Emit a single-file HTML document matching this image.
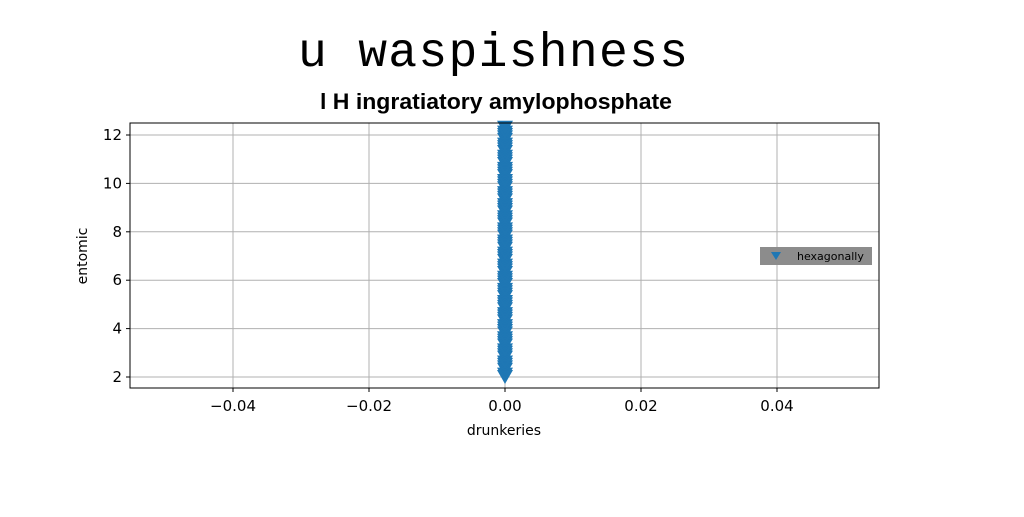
<!DOCTYPE html>
<html><head><meta charset="utf-8"><style>
body{margin:0;background:#fff;}
svg text{font-family:"DejaVu Sans","Liberation Sans",sans-serif;}
</style></head><body>
<svg width="1024" height="512" xmlns="http://www.w3.org/2000/svg" id="chart">
<text x="493" y="66" text-anchor="middle" font-size="48" style="font-family:'Liberation Mono',monospace" textLength="390" fill="#000">u waspishness</text>
<text x="496" y="109" text-anchor="middle" font-size="22" font-weight="bold" textLength="352" lengthAdjust="spacingAndGlyphs" style="font-family:'Liberation Sans Narrow','Liberation Sans',sans-serif" fill="#000">l H ingratiatory amylophosphate</text>
<g id="grid"></g>
<g id="marks"></g>
<rect x="130" y="123" width="749" height="265" fill="none" stroke="#000" stroke-width="1"/>
<g id="ticks"></g>
<text x="504" y="435" text-anchor="middle" font-size="14" fill="#000">drunkeries</text>
<text x="87" y="256" text-anchor="middle" font-size="14" fill="#000" transform="rotate(-90 87 256)">entomic</text>
<g>
<rect x="760" y="247" width="112" height="18" fill="#8c8c8c"/>
<path d="M771,252 L781,252 L776,260 Z" fill="#1f77b4"/>
<text x="797" y="260" font-size="11" fill="#000">hexagonally</text>
</g>
</svg>
<script>
const xTicks=[-0.04,-0.02,0.00,0.02,0.04];
const xTickLabels=["\u22120.04","\u22120.02","0.00","0.02","0.04"];
const yTicks=[2,4,6,8,10,12];
const yTickLabels=["2","4","6","8","10","12"];
const seriesX=[0,0,0,0,0,0,0,0,0,0,0,0,0,0,0,0,0,0,0,0,0,0,0,0,0,0,0,0,0,0,0,0,0,0,0,0,0,0,0,0,0,0,0,0,0,0,0,0,0,0,0,0,0,0,0,0,0,0,0,0,0,0,0,0,0,0,0,0,0,0,0,0,0,0,0,0,0,0,0,0,0,0,0];
const seriesY=[2.0,2.1,2.3,2.4,2.5,2.6,2.8,2.9,3.0,3.1,3.3,3.4,3.5,3.6,3.8,3.9,4.0,4.1,4.3,4.4,4.5,4.6,4.8,4.9,5.0,5.1,5.3,5.4,5.5,5.6,5.8,5.9,6.0,6.1,6.3,6.4,6.5,6.6,6.8,6.9,7.0,7.1,7.3,7.4,7.5,7.6,7.8,7.9,8.0,8.1,8.3,8.4,8.5,8.6,8.8,8.9,9.0,9.1,9.3,9.4,9.5,9.6,9.8,9.9,10.0,10.1,10.3,10.4,10.5,10.6,10.8,10.9,11.0,11.1,11.3,11.4,11.5,11.6,11.8,11.9,12.0,12.1,12.3];
const NS="http://www.w3.org/2000/svg";
const xs=v=>505+(v/0.02)*136;
const ys=v=>377-(v-2)*24.2;
const grid=document.getElementById('grid'),ticks=document.getElementById('ticks'),marks=document.getElementById('marks');
function mk(tag,attrs,parent){const e=document.createElementNS(NS,tag);for(const k in attrs)e.setAttribute(k,attrs[k]);parent.appendChild(e);return e;}
xTicks.forEach((v,i)=>{const x=xs(v);
 const g=mk('line',{x1:x,x2:x,y1:123,y2:388,stroke:'#b0b0b0','stroke-width':1},grid);
 
 
 const t=mk('line',{x1:x,x2:x,y1:388,y2:392,stroke:'#000'},ticks);
 
 
 const l=mk('text',{x:x,y:411,'text-anchor':'middle','font-size':15,fill:'#000'},ticks);l.textContent=xTickLabels[i];
 
 
});
yTicks.forEach((v,i)=>{const y=ys(v);
 const g=mk('line',{x1:130,x2:879,y1:y,y2:y,stroke:'#b0b0b0','stroke-width':1},grid);
 
 
 const t=mk('line',{x1:126,x2:130,y1:y,y2:y,stroke:'#000'},ticks);
 
 
 const l=mk('text',{x:122,y:y+5,'text-anchor':'end','font-size':15,fill:'#000'},ticks);l.textContent=yTickLabels[i];
 
 
});
seriesY.forEach((v,i)=>{const x=xs(seriesX[i]),y=ys(v);
 const p=mk('path',{d:`M${x-8},${y-7} L${x+8},${y-7} L${x},${y+7} Z`,fill:'#1f77b4'},marks);
 
 
});
</script>
</body></html>
